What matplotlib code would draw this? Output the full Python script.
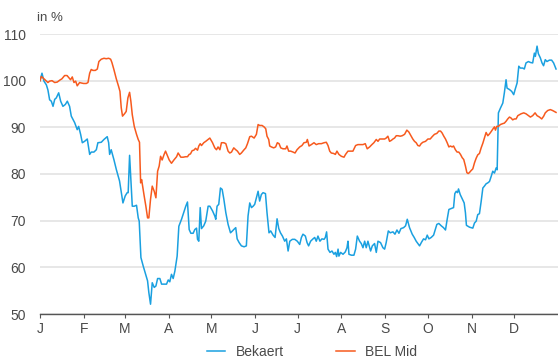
import matplotlib
matplotlib.use('Agg')
import matplotlib.pyplot as plt

plt.rcParams['font.family'] = ['Liberation Sans', 'DejaVu Sans']

# day of year (2020) and index values in %
bekaert_days = [0, 1.4, 2.8, 4.5, 5.6, 6.8, 8.0, 9.2, 10.4, 11.5, 13.2, 14.6, 16.2, 17.9, 19.3, 20.9,
                22.1, 24.5, 26.3, 27.3, 28.7, 29.9, 31.5, 33.4, 35.1, 36.2, 38.1, 39.8, 40.9, 43.3,
                45.2, 47.5, 48.5, 49.2, 50.3, 52.2, 53.9, 56.2, 58.6, 60.2, 61.6, 62.3, 63.3, 64.2,
                65.2, 66.6, 68.2, 69.4, 70.1, 71.3, 72.9, 74.6, 76.0, 76.9, 78.1, 79.3, 80.7, 81.9,
                83.1, 84.7, 85.9, 87.7, 89.4, 90.6, 91.7, 92.9, 94.1, 95.3, 96.9, 98.1, 100.0, 101.9,
                103.0, 104.2, 105.4, 106.6, 108.2, 109.4, 110.6, 111.3, 112.2, 113.2, 114.1, 115.7,
                117.1, 118.8, 120.0, 121.9, 123.5, 124.2, 125.1, 126.3, 127.5, 128.7, 129.9, 131.3,
                132.9, 134.6, 136.0, 136.9, 138.3, 139.3, 140.7, 142.3, 144.2, 145.8, 147.0, 148.2,
                149.4, 150.6, 151.7, 152.9, 154.1, 155.2, 156.4, 157.6, 159.3, 160.4, 161.8, 163.0,
                164.7, 166.1, 167.5, 168.7, 169.9, 171.3, 172.9, 174.1, 175.3, 176.5, 178.3, 180.0,
                181.8, 183.5, 184.7, 185.8, 187.5, 188.7, 189.8, 191.2, 192.9, 194.1, 195.2, 196.4,
                197.8, 199.2, 200.7, 201.6, 202.5, 203.5, 204.9, 206.3, 207.7, 208.7, 209.6, 210.6,
                211.2, 212.4, 214.1, 215.7, 216.9, 217.6, 218.3, 220.0, 221.8, 223.0, 224.2, 225.8,
                227.0, 228.2, 229.4, 230.5, 231.7, 233.6, 234.8, 236.4, 237.6, 238.8, 240.6, 242.3,
                243.5, 244.6, 246.1, 247.5, 249.4, 250.8, 252.2, 253.6, 255.0, 256.9, 258.3, 259.5,
                261.1, 263.0, 264.4, 265.8, 267.0, 268.2, 269.6, 271.0, 272.4, 273.6, 274.8, 276.4,
                278.1, 279.5, 280.4, 281.8, 283.5, 285.1, 286.5, 287.7, 288.9, 290.5, 292.2, 293.1,
                294.1, 295.0, 295.7, 296.9, 298.3, 299.7, 300.6, 301.3, 303.5, 305.8, 307.0, 308.2,
                309.3, 310.5, 311.7, 312.9, 314.0, 315.2, 316.4, 317.6, 318.8, 319.9, 321.1, 322.3,
                323.0, 323.5, 323.9, 325.3, 327.0, 328.1, 329.3, 330.0, 331.7, 333.3, 334.7, 335.7,
                337.1, 338.3, 339.4, 341.1, 342.2, 343.4, 345.1, 346.5, 348.1, 349.3, 350.0, 351.2,
                352.1, 353.5, 354.7, 355.8, 357.0, 358.2, 359.9, 361.5, 362.9, 364.6]
bekaert = [100, 101.6, 99.9, 99.1, 98.0, 95.9, 95.6, 94.5, 96.0, 96.3, 97.4, 95.6, 94.5, 94.9, 95.6, 94.5,
           92.4, 91.0, 89.5, 90.2, 88.5, 86.7, 87.0, 87.5, 84.2, 84.7, 84.7, 85.2, 86.7, 86.8,
           87.4, 88.0, 86.7, 84.2, 85.2, 83.1, 81.0, 78.5, 73.8, 75.3, 76.0, 76.0, 84.0, 78.8,
           73.1, 73.1, 73.3, 70.6, 69.9, 62.1, 60.3, 58.5, 57.1, 54.6, 52.1, 56.7, 55.7, 56.0,
           57.6, 57.6, 56.4, 56.4, 56.4, 57.3, 56.9, 58.5, 57.6, 59.2, 62.4, 68.8, 70.3, 72.1,
           73.1, 74.0, 68.1, 67.3, 67.3, 68.1, 68.4, 66.0, 65.6, 72.8, 68.3, 68.9,
           69.9, 73.1, 73.1, 72.1, 71.0, 70.3, 73.1, 73.5, 77.0, 76.7, 74.6, 71.7,
           69.2, 67.4, 67.8, 68.1, 68.5, 66.1, 65.3, 64.6, 64.4, 64.6, 71.0, 73.8,
           72.8, 73.1, 73.5, 74.9, 76.3, 74.2, 75.6, 76.0, 75.8, 71.7, 67.4, 67.8,
           66.9, 66.4, 70.4, 68.3, 67.4, 66.7, 65.6, 66.1, 63.5, 65.6, 66.0, 66.0,
           65.6, 64.9, 66.4, 67.1, 66.7, 65.3, 64.6, 65.6, 66.1, 66.4, 65.6, 66.7,
           65.6, 66.1, 66.0, 66.4, 67.6, 63.9, 63.2, 63.5, 62.8, 63.2, 62.3, 63.9,
           62.4, 63.2, 62.8, 63.3, 64.2, 65.6, 62.8, 62.6, 62.6, 63.9, 66.7, 65.6,
           65.1, 64.2, 65.6, 64.2, 65.6, 63.5, 64.6, 65.1, 63.2, 65.6, 65.3, 64.2,
           63.9, 65.3, 67.8, 67.4, 67.6, 67.1, 68.0, 67.3, 68.3, 68.5, 68.9, 70.3,
           68.5, 67.1, 66.4, 65.6, 65.1, 64.6, 65.4, 66.1, 65.9, 66.9, 66.1, 66.4,
           66.9, 68.3, 69.2, 69.4, 68.9, 68.5, 68.0, 70.3, 72.4, 72.6, 72.8, 75.8,
           76.3, 76.0, 76.8, 75.6, 74.7, 73.8, 71.7, 69.0, 68.6, 68.4, 69.5, 69.9,
           71.3, 71.5, 74.1, 77.0, 77.4, 77.9, 78.1, 78.4, 79.5, 80.6, 80.2, 81.3,
           80.9, 87.4, 93.1, 94.1, 95.2, 97.4, 100.2, 98.4, 98.1, 97.7, 97.0, 98.1,
           99.5, 103.1, 102.7, 102.7, 102.5, 103.8, 104.1, 103.9, 103.8, 105.9, 105.2, 107.4,
           105.8, 104.9, 103.8, 103.2, 104.5, 104.1, 104.4, 104.4, 103.8, 102.5]

belmid_days = [0, 0.9, 2.1, 3.8, 5.6, 6.8, 8.5, 10.4, 12.2, 13.9, 15.5, 17.4, 19.1, 20.5, 21.6, 22.8,
               24.0, 25.2, 26.3, 28.0, 29.2, 30.8, 32.7, 33.9, 35.1, 36.2, 37.4, 39.1, 40.5, 41.6,
               43.3, 45.2, 46.8, 48.5, 49.9, 50.8, 52.2, 53.9, 55.5, 56.5, 57.4, 58.3, 59.7, 60.9,
               62.1, 63.3, 64.2, 65.2, 66.6, 68.2, 69.4, 70.3, 71.1, 71.8, 72.5, 73.6, 74.8, 76.0,
               76.9, 78.1, 79.3, 80.7, 81.9, 83.1, 84.2, 85.2, 86.3, 87.7, 88.7, 89.9, 91.3, 92.9,
               94.6, 96.5, 97.6, 99.5, 101.2, 102.8, 104.2, 105.4, 106.3, 107.5, 108.7, 109.9,
               111.3, 112.2, 113.2, 114.1, 115.7, 117.1, 118.8, 120.0, 121.9, 123.5, 124.7, 125.8,
               127.1, 128.2, 129.9, 131.3, 132.9, 134.1, 135.3, 136.9, 138.3, 139.5, 141.1, 142.3,
               143.9, 145.4, 146.6, 148.2, 149.4, 151.3, 152.9, 154.1, 155.2, 156.9, 158.3, 159.5,
               160.4, 161.6, 162.3, 163.5, 165.1, 166.5, 167.7, 168.9, 170.1, 171.7, 173.6, 174.5,
               175.7, 177.1, 178.8, 180.2, 181.6, 183.5, 185.1, 186.5, 188.2, 188.9, 190.1, 191.7,
               193.6, 195.2, 196.9, 198.8, 200.7, 202.3, 203.5, 204.7, 205.8, 207.5, 208.7, 209.8,
               211.2, 212.9, 214.8, 215.9, 217.6, 219.2, 221.1, 223.0, 224.6, 226.5, 228.2, 229.8,
               231.2, 232.9, 234.5, 235.9, 237.6, 238.8, 240.0, 241.8, 243.5, 244.6, 245.8, 247.0,
               248.2, 249.4, 250.5, 251.7, 252.9, 254.5, 255.9, 257.6, 259.2, 260.6, 262.3, 263.4,
               264.6, 265.8, 267.0, 268.2, 269.3, 270.5, 272.4, 274.1, 275.7, 277.1, 278.7, 280.4,
               281.8, 283.0, 284.1, 285.3, 286.5, 287.7, 288.9, 290.0, 291.2, 292.2, 293.5, 294.7,
               295.9, 297.1, 298.3, 299.4, 300.6, 301.6, 302.5, 303.4, 304.2, 305.8, 307.0, 308.2,
               309.3, 310.5, 311.7, 312.9, 314.0, 315.2, 316.4, 317.6, 318.8, 319.9, 321.1, 321.8,
               322.7, 323.9, 325.3, 327.0, 328.1, 329.3, 330.5, 331.7, 332.8, 334.0, 335.2, 336.4,
               337.6, 338.7, 339.9, 341.8, 343.4, 345.1, 346.5, 348.1, 349.8, 351.2, 352.9, 354.5,
               355.9, 357.0, 358.7, 360.6, 362.2, 363.4, 364.6]
belmid = [100, 100.9, 100.6, 100.1, 99.6, 99.9, 100.0, 99.6, 99.7, 100.1, 100.4, 101.1, 101.1, 100.6, 100.2, 100.8,
          99.6, 99.9, 98.9, 99.6, 99.5, 99.4, 99.4, 99.6, 101.6, 102.4, 102.2, 102.2, 102.5, 104.1,
          104.6, 104.8, 104.7, 104.8, 104.6, 103.9, 102.4, 100.4, 98.8, 97.7, 94.2, 92.4, 92.9, 93.4,
          96.3, 97.5, 95.6, 92.7, 90.2, 88.5, 87.4, 86.8, 78.1, 78.8, 77.4, 75.3, 73.1, 70.6,
          70.6, 74.6, 77.4, 76.3, 74.9, 80.6, 81.7, 83.8, 83.0, 84.2, 84.9, 84.0, 83.0, 82.3,
          83.0, 83.7, 84.5, 83.6, 83.6, 83.7, 83.7, 84.2, 84.3, 85.0, 85.1, 85.5,
          85.1, 86.0, 86.5, 86.1, 86.7, 87.0, 87.4, 87.7, 86.7, 85.6, 85.2, 85.8,
          85.2, 86.7, 86.7, 86.5, 84.9, 84.5, 84.7, 85.6, 85.2, 84.9, 84.2, 84.5,
          85.1, 85.6, 86.5, 88.0, 88.1, 87.7, 88.5, 90.6, 90.4, 90.4, 90.1, 89.7,
          88.1, 87.4, 86.0, 85.8, 85.6, 85.8, 86.7, 86.5, 85.6, 85.4, 85.4, 86.0,
          84.9, 84.9, 84.7, 84.5, 85.2, 85.8, 86.1, 86.7, 86.8, 87.4, 86.0, 86.3,
          86.7, 86.3, 86.5, 86.5, 86.7, 86.8, 86.1, 84.9, 84.5, 84.4, 84.2, 84.9,
          84.2, 83.8, 83.6, 84.2, 84.9, 84.9, 84.9, 86.1, 86.3, 86.3, 86.3, 86.5,
          85.4, 85.8, 86.3, 86.7, 87.4, 87.0, 87.5, 87.5, 87.5, 87.7, 88.1, 87.0,
          87.2, 87.5, 87.7, 88.2, 88.2, 88.1, 88.2, 88.5, 89.4, 89.0, 88.1, 87.5,
          87.0, 86.7, 86.1, 86.0, 86.5, 86.8, 87.0, 87.5, 87.5, 88.0, 88.5, 88.7,
          89.2, 89.2, 88.8, 88.1, 87.5, 86.7, 85.8, 86.0, 85.8, 86.0, 85.2, 84.7,
          84.7, 84.2, 83.5, 83.1, 81.7, 80.3, 80.1, 80.3, 80.6, 81.1, 82.4, 83.4,
          84.1, 84.4, 85.6, 86.6, 87.7, 88.9, 88.2, 88.6, 89.1, 89.6, 90.1, 89.4,
          90.2, 90.2, 90.6, 90.8, 90.9, 91.3, 91.8, 92.2, 92.0, 91.6, 91.8, 91.8,
          92.5, 92.7, 92.9, 93.1, 92.9, 92.5, 92.2, 92.5, 93.1, 92.5, 92.2, 91.8,
          92.4, 93.1, 93.6, 93.8, 93.6, 93.4, 93.2]

month_starts = [0, 31, 60, 91, 121, 152, 182, 213, 244, 274, 305, 335]
month_labels = ['J', 'F', 'M', 'A', 'M', 'J', 'J', 'A', 'S', 'O', 'N', 'D']
y_ticks = [50, 60, 70, 80, 90, 100, 110]

blue = '#1aa0e0'
orange = '#f75a1e'
text_col = '#4a4a4a'

fig = plt.figure(figsize=(5.58, 3.6), dpi=100)
ax = fig.add_axes([40 / 558, 1 - 314 / 360, 518 / 558, 280 / 360])

ax.plot(bekaert_days, bekaert, color=blue, lw=1.1, label='Bekaert')
ax.plot(belmid_days, belmid, color=orange, lw=1.1, label='BEL Mid')

ax.set_xlim(0, 366)
ax.set_ylim(50, 110)
ax.set_yticks(y_ticks)
ax.set_xticks(month_starts)
ax.set_xticklabels(month_labels)

ax.grid(axis='y', color='#e3e3e3', lw=1.2)
ax.set_axisbelow(True)
for s in ['left', 'right', 'top']:
    ax.spines[s].set_visible(False)
ax.spines['bottom'].set_color('#555555')
ax.spines['bottom'].set_linewidth(1.0)
ax.tick_params(axis='y', length=0, pad=10, labelsize=10, labelcolor=text_col)
ax.tick_params(axis='x', length=3, width=0.8, color='#555555', pad=3,
               labelsize=10, labelcolor=text_col)

fig.text(37 / 558, 1 - 18 / 360, 'in %', fontsize=9.5, color=text_col, va='center')

fig.legend(loc='center', bbox_to_anchor=(312 / 558, 8 / 360), ncol=2, frameon=False,
           fontsize=10, handlelength=1.3, handletextpad=0.75, columnspacing=3.8,
           labelcolor=text_col)

fig.savefig('out.png', dpi=100)
